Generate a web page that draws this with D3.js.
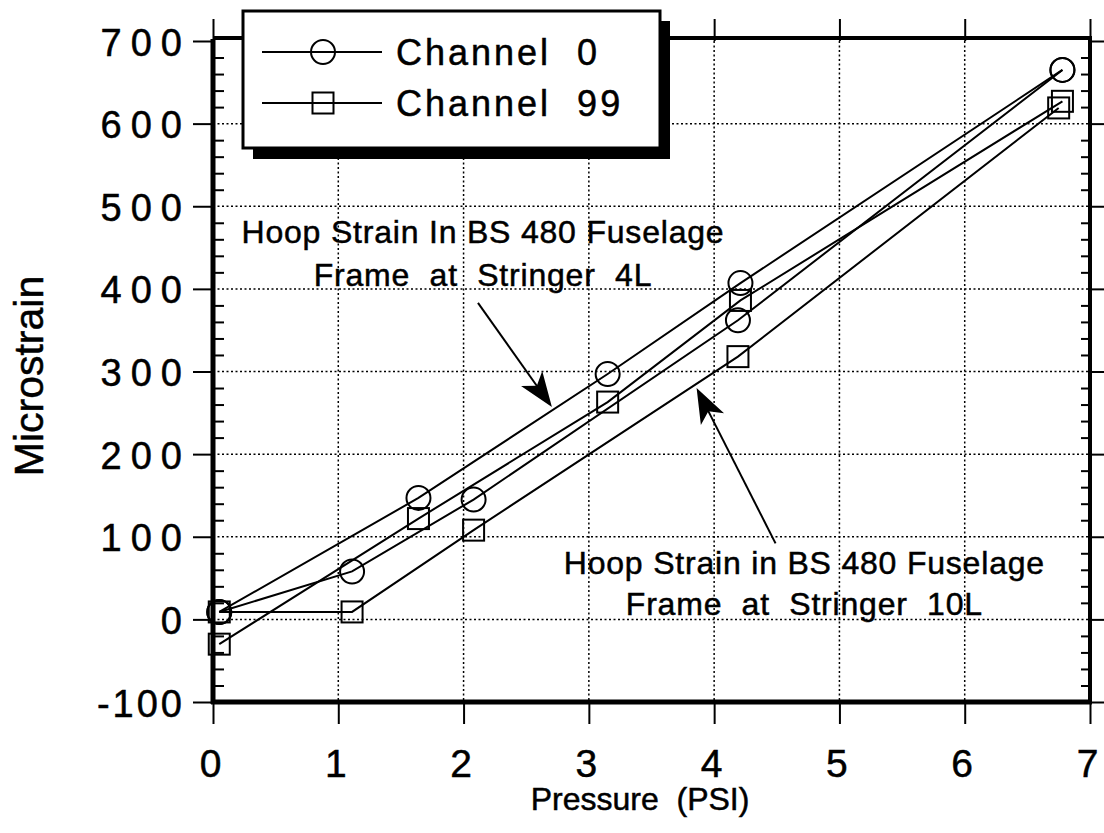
<!DOCTYPE html>
<html><head><meta charset="utf-8">
<script src="https://cdn.jsdelivr.net/npm/d3@7"></script>
<style>
body{margin:0;background:#fff}
svg text{font-family:"Liberation Sans",Arial,Helvetica,sans-serif;fill:#000;white-space:pre;stroke:#000;stroke-width:0.5px}
</style>
</head><body>
<svg id="c" width="1104" height="833"></svg>
<script>
// ---- data ----
const xTicks = [0,1,2,3,4,5,6,7];
const xTickLabels = ["0","1","2","3","4","5","6","7"];
const yTicks = [-100,0,100,200,300,400,500,600,700];
const yTickLabels = ["-100","0","100","200","300","400","500","600","700"];
const yMinor = d3.range(-100, 701, 20).filter(v => v % 100 !== 0);

// Channel 0 (circles)
const ch0_4L_x  = [0.05, 1.64, 3.15, 4.21, 6.78];
const ch0_4L_y  = [9, 147, 297, 407, 665];
const ch0_10L_x = [0.05, 1.11, 2.08, 4.19, 6.78];
const ch0_10L_y = [9, 58, 145, 362, 665];
// Channel 99 (squares)
const ch99_4L_x  = [0.05, 1.64, 3.15, 4.21, 6.78];
const ch99_4L_y  = [-30, 122, 263, 386, 627];
const ch99_10L_x = [0.05, 1.11, 2.08, 4.19, 6.75];
const ch99_10L_y = [9, 9, 108, 318, 619];

const legendLabels = ["Channel  0", "Channel  99"];
const note1 = ["Hoop Strain In BS 480 Fuselage", "Frame  at  Stringer  4L"];
const note2 = ["Hoop Strain in BS 480 Fuselage", "Frame  at  Stringer  10L"];
// annotation anchors in data units
const note1Pos = [2.155, 455, 404];
const note2Pos = [4.72, 55, 5];
const arrow1 = [[2.115, 383], [2.705, 257]];
const arrow2 = [[4.49, 92], [3.86, 280]];

// ---- drawing ----
const svg = d3.select("#c");
svg.append("rect").attr("width",1104).attr("height",833).attr("fill","#fff");
const x = d3.scaleLinear().domain([0,7]).range([213,1090]);
const y = d3.scaleLinear().domain([-100,700]).range([702,41]);
const FONT = '"Liberation Sans",Arial,Helvetica,sans-serif';

// grid
const grid = svg.append("g").attr("stroke","#000").attr("stroke-width",1.5).attr("stroke-dasharray","2,2.5");
grid.selectAll(".gx").data(xTicks.filter(d=>d>0&&d<7)).enter().append("line")
  .attr("x1",d=>x(d)).attr("x2",d=>x(d)).attr("y1",y(700)).attr("y2",y(-100));
grid.selectAll(".gy").data(yTicks.filter(d=>d>-100&&d<700)).enter().append("line")
  .attr("y1",d=>y(d)).attr("y2",d=>y(d)).attr("x1",x(0)).attr("x2",x(7));

function styleAxis(g){
  g.select(".domain").remove();
  g.selectAll(".tick line").attr("stroke","#000").attr("stroke-width",2);
}
// left axis: major outward with labels
const gL = svg.append("g").attr("transform",`translate(${x(0)},0)`)
  .call(d3.axisLeft(y).tickValues(yTicks).tickSize(20).tickFormat((d,i)=>yTickLabels[i]));
styleAxis(gL);
gL.selectAll(".tick text").attr("dy",null).attr("y",14)
  .attr("font-size",38).attr("font-family",FONT)
  .attr("letter-spacing",d=>d<0?3:9).attr("x",d=>d<0?-28:-22);
// left minor inward
const gLm = svg.append("g").attr("transform",`translate(${x(0)},0)`)
  .call(d3.axisRight(y).tickValues(yMinor).tickSize(11).tickFormat(""));
styleAxis(gLm);
// right axis
const gR = svg.append("g").attr("transform",`translate(${x(7)},0)`)
  .call(d3.axisRight(y).tickValues(yTicks).tickSize(14).tickFormat(""));
styleAxis(gR);
const gRm = svg.append("g").attr("transform",`translate(${x(7)},0)`)
  .call(d3.axisLeft(y).tickValues(yMinor).tickSize(9).tickFormat(""));
styleAxis(gRm);
// bottom axis
const gB = svg.append("g").attr("transform",`translate(0,${y(-100)})`)
  .call(d3.axisBottom(x).tickValues(xTicks).tickSize(22).tickFormat((d,i)=>xTickLabels[i]));
styleAxis(gB);
gB.selectAll(".tick text").attr("dy",null).attr("y",75).attr("x",-3)
  .attr("font-size",39).attr("font-family",FONT);
// top axis
const gT = svg.append("g").attr("transform",`translate(0,${y(700)})`)
  .call(d3.axisTop(x).tickValues(xTicks).tickSize(22).tickFormat(""));
styleAxis(gT);

// frame
svg.append("line").attr("x1",x(0)).attr("x2",x(0)).attr("y1",y(700)-2).attr("y2",y(-100)+2).attr("stroke","#000").attr("stroke-width",5);
svg.append("line").attr("x1",x(0)-2).attr("x2",x(7)+2).attr("y1",y(-100)).attr("y2",y(-100)).attr("stroke","#000").attr("stroke-width",5);
svg.append("line").attr("x1",x(0)).attr("x2",x(7)+2).attr("y1",y(700)-3).attr("y2",y(700)-3).attr("stroke","#000").attr("stroke-width",4);
svg.append("line").attr("x1",x(7)).attr("x2",x(7)).attr("y1",y(700)-5).attr("y2",y(-100)).attr("stroke","#000").attr("stroke-width",4);

// series lines
const series = [
  {xs:ch0_4L_x, ys:ch0_4L_y, m:"circle"},
  {xs:ch0_10L_x, ys:ch0_10L_y, m:"circle"},
  {xs:ch99_4L_x, ys:ch99_4L_y, m:"square"},
  {xs:ch99_10L_x, ys:ch99_10L_y, m:"square"}
];
const line = d3.line().x(d=>x(d[0])).y(d=>y(d[1]));
series.forEach(s=>{
  const pts = s.xs.map((v,i)=>[v,s.ys[i]]);
  svg.append("path").attr("d",line(pts)).attr("fill","none").attr("stroke","#000").attr("stroke-width",2);
  if(s.m==="circle"){
    svg.append("g").selectAll("circle").data(pts).enter().append("circle")
      .attr("cx",d=>x(d[0])).attr("cy",d=>y(d[1])).attr("r",12)
      .attr("fill","none").attr("stroke","#000").attr("stroke-width",2);
  } else {
    svg.append("g").selectAll("rect").data(pts).enter().append("rect")
      .attr("x",d=>x(d[0])-10.5).attr("y",d=>y(d[1])-10.5).attr("width",21).attr("height",21)
      .attr("fill","none").attr("stroke","#000").attr("stroke-width",2);
  }
});

// annotations
function note(lines,pos){
  lines.forEach((t,i)=>{
    svg.append("text").attr("x",x(pos[0])).attr("y",y(pos[1+i])).attr("text-anchor","middle")
      .attr("font-size",32).attr("letter-spacing",0.8).text(t);
  });
}
note(note1,note1Pos);
note(note2,note2Pos);
function arrow(a){
  const x1=x(a[0][0]), y1=y(a[0][1]), x2=x(a[1][0]), y2=y(a[1][1]);
  const dx=x2-x1, dy=y2-y1, L=Math.hypot(dx,dy), ux=dx/L, uy=dy/L, px=-uy, py=ux;
  svg.append("line").attr("x1",x1).attr("y1",y1).attr("x2",x2-ux*20).attr("y2",y2-uy*20)
    .attr("stroke","#000").attr("stroke-width",2);
  const p = (a,b)=>[x2+ux*a+px*b, y2+uy*a+py*b];
  const pts=[p(0,0),p(-35,13),p(-26,0),p(-35,-13)];
  svg.append("path").attr("d","M"+pts.map(q=>q.join(",")).join("L")+"Z").attr("fill","#000");
}
arrow(arrow1); arrow(arrow2);

// axis titles
svg.append("text").attr("x",640).attr("y",810).attr("text-anchor","middle").attr("font-size",32).text("Pressure  (PSI)");
svg.append("text").attr("transform","translate(43,376) rotate(-90)").attr("text-anchor","middle").attr("font-size",41).text("Microstrain");

// legend
const lg = svg.append("g");
lg.append("rect").attr("x",253).attr("y",21).attr("width",417).attr("height",138).attr("fill","#000");
lg.append("rect").attr("x",243).attr("y",11).attr("width",417).attr("height",137).attr("fill","#fff").attr("stroke","#000").attr("stroke-width",3);
const lgY=[52,103];
legendLabels.forEach((t,i)=>{
  lg.append("line").attr("x1",262).attr("x2",382).attr("y1",lgY[i]).attr("y2",lgY[i]).attr("stroke","#000").attr("stroke-width",2);
  if(i===0) lg.append("circle").attr("cx",323).attr("cy",lgY[i]).attr("r",12).attr("fill","#fff").attr("stroke","#000").attr("stroke-width",2);
  else lg.append("rect").attr("x",312.5).attr("y",lgY[i]-10.5).attr("width",21).attr("height",21).attr("fill","#fff").attr("stroke","#000").attr("stroke-width",2);
  lg.append("line").attr("x1",262).attr("x2",382).attr("y1",lgY[i]).attr("y2",lgY[i]).attr("stroke","#000").attr("stroke-width",2);
  lg.append("text").attr("x",396).attr("y",lgY[i]+13).attr("font-size",36).attr("letter-spacing",3).text(t);
});
</script>
</body></html>
